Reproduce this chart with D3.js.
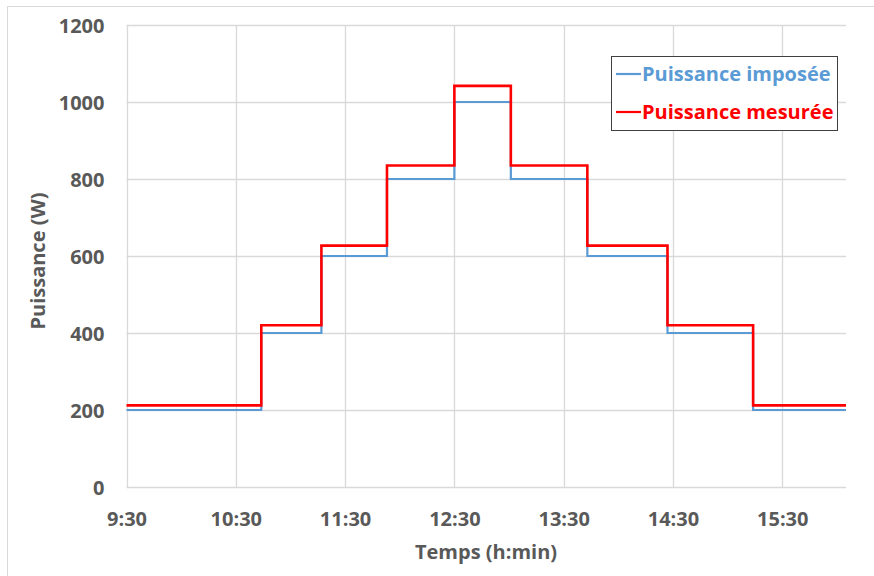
<!DOCTYPE html>
<html><head><meta charset="utf-8">
<script src="https://cdn.jsdelivr.net/npm/d3@7"></script>
<style>body{margin:0;background:#fff}svg{display:block}text{font-family:"Open Sans",sans-serif;font-weight:bold}</style>
</head><body><svg id="c" width="874" height="576"></svg>
<script>
const stepTimes = ["9:30","10:44","11:17","11:53","12:30","13:01","13:43","14:27","15:14","16:05"];
const imposed  = [200,400,600,800,1000,800,600,400,200];
const measured = [212,420,627,835,1042,835,627,420,212];
const xTicks = ["9:30","10:30","11:30","12:30","13:30","14:30","15:30"];
const yTicks = [0,200,400,600,800,1000,1200];
const seriesNames = ["Puissance imposée","Puissance mesurée"];
const seriesColors = ["#5b9bd5","#ff0000"];

const toMin = s => { const [h,m] = s.split(":").map(Number); return h*60+m; };
const svg = d3.select("#c");
const W=874,H=576;
const m = {l:126.5, r:W-846, t:25, b:H-487};
const x = d3.scaleLinear().domain([toMin("9:30"), toMin("16:05")]).range([m.l, W-m.r]);
const y = d3.scaleLinear().domain([0,1200]).range([H-m.b, m.t]);

svg.append("rect").attr("x",7.5).attr("y",6.5).attr("width",W).attr("height",H).attr("fill","none").attr("stroke","#d9d9d9");

// grid
const g = svg.append("g");
g.selectAll(".hg").data(yTicks).join("line")
  .attr("x1",x.range()[0]).attr("x2",x.range()[1])
  .attr("y1",d=>Math.round(y(d))+0.5).attr("y2",d=>Math.round(y(d))+0.5)
  .attr("stroke","#d9d9d9").attr("stroke-width",1.3);
g.selectAll(".vg").data(xTicks).join("line")
  .attr("x1",d=>Math.round(x(toMin(d)))+0.5).attr("x2",d=>Math.round(x(toMin(d)))+0.5)
  .attr("y1",y(0)).attr("y2",y(1200))
  .attr("stroke","#d9d9d9").attr("stroke-width",1.3);

// axes labels
const yAxis = d3.axisLeft(y).tickValues(yTicks).tickFormat(d3.format("d")).tickSize(0).tickPadding(22);
svg.append("g").attr("transform",`translate(${m.l},0)`).call(yAxis)
  .call(a=>a.select(".domain").remove())
  .selectAll("text").attr("fill","#595959").style("font-size","20px").attr("dy","0.35em");
const xAxis = d3.axisBottom(x).tickValues(xTicks.map(toMin)).tickFormat((d,i)=>xTicks[i]).tickSize(0).tickPadding(25);
svg.append("g").attr("transform",`translate(0,${y(0)})`).call(xAxis)
  .call(a=>a.select(".domain").remove())
  .selectAll("text").attr("fill","#595959").style("font-size","20px");

svg.append("text").attr("x",486).attr("y",559).attr("text-anchor","middle")
  .attr("fill","#595959").style("font-size","20px").text("Temps (h:min)");
svg.append("text").attr("transform","translate(45,261) rotate(-90)").attr("text-anchor","middle")
  .attr("fill","#595959").style("font-size","20px").text("Puissance (W)");

// lines
const line = d3.line().curve(d3.curveStepAfter).x(d=>x(d[0])).y(d=>y(d[1]));
[imposed, measured].forEach((vals,i)=>{
  const pts = stepTimes.map((t,j)=>[toMin(t), vals[Math.min(j, vals.length-1)]]);
  svg.append("path").attr("d",line(pts)).attr("fill","none")
    .attr("stroke",seriesColors[i]).attr("stroke-width", i===0?2.2:2.6);
});

// legend
const lg = svg.append("g");
lg.append("rect").attr("x",611.5).attr("y",56.5).attr("width",226).attr("height",74)
  .attr("fill","#fff").attr("stroke","#404040").attr("stroke-width",1);
seriesNames.forEach((n,i)=>{
  const yy = 74 + i*38;
  lg.append("line").attr("x1",616).attr("x2",641).attr("y1",yy).attr("y2",yy)
    .attr("stroke",seriesColors[i]).attr("stroke-width",2.2);
  lg.append("text").attr("x",642).attr("y",yy).attr("dy","0.35em")
    .attr("fill",seriesColors[i]).style("font-size","20px").text(n);
});
</script></body></html>
